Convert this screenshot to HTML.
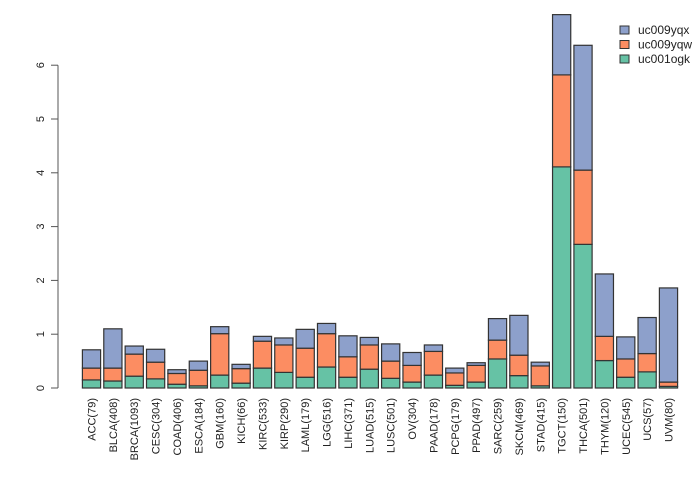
<!DOCTYPE html>
<html><head><meta charset="utf-8">
<style>
html,body{margin:0;padding:0;background:#fff;}
svg{display:block;font-family:"Liberation Sans",sans-serif;}
</style></head>
<body>
<svg id="chart" width="700" height="480"></svg>
<script>
const categories = ["ACC(79)","BLCA(408)","BRCA(1093)","CESC(304)","COAD(406)","ESCA(184)","GBM(160)","KICH(66)","KIRC(533)","KIRP(290)","LAML(179)","LGG(516)","LIHC(371)","LUAD(515)","LUSC(501)","OV(304)","PAAD(178)","PCPG(179)","PPAD(497)","SARC(259)","SKCM(469)","STAD(415)","TGCT(150)","THCA(501)","THYM(120)","UCEC(545)","UCS(57)","UVM(80)"];
const uc001ogk = [0.15,0.13,0.22,0.17,0.07,0.04,0.24,0.09,0.37,0.29,0.20,0.39,0.20,0.35,0.18,0.11,0.24,0.05,0.11,0.54,0.23,0.04,4.11,2.67,0.51,0.20,0.30,0.03];
const uc009yqw = [0.22,0.24,0.41,0.31,0.20,0.29,0.77,0.27,0.50,0.51,0.54,0.62,0.38,0.45,0.32,0.31,0.44,0.23,0.31,0.35,0.38,0.37,1.71,1.38,0.45,0.34,0.34,0.08];
const uc009yqx = [0.34,0.73,0.15,0.24,0.07,0.17,0.13,0.08,0.09,0.13,0.35,0.19,0.39,0.14,0.32,0.24,0.12,0.09,0.05,0.40,0.74,0.07,1.12,2.32,1.16,0.41,0.67,1.75];
const yTicks = [0,1,2,3,4,5,6];
const seriesNames = ["uc001ogk","uc009yqw","uc009yqx"];
const seriesColors = ["#66c2a5","#fc8d62","#8da0cb"];

const NS="http://www.w3.org/2000/svg";
const svg=document.getElementById('chart');
const y0=388, pxPerUnit=53.8;
const yScale=v=>y0-v*pxPerUnit;
const xLeft=i=>82.4+i*21.37;
const barW=18.2;
function mk(tag,attrs,parent){const e=document.createElementNS(NS,tag);for(const k in attrs)e.setAttribute(k,attrs[k]);(parent||svg).appendChild(e);return e;}

// y axis
const axis=mk('g',{});


mk('line',{x1:58,x2:58,y1:yScale(0),y2:yScale(6),stroke:'#555','stroke-width':1},axis);
yTicks.forEach(t=>{
  const y=yScale(t);
  mk('line',{x1:51,x2:58,y1:y,y2:y,stroke:'#555','stroke-width':1},axis);
  const tx=mk('text',{x:0,y:0,transform:`translate(44,${y}) rotate(-90)`,'text-anchor':'middle','font-size':11,fill:'#222'},axis);
  tx.textContent=t;
  
  
});

const series=[uc001ogk,uc009yqw,uc009yqx];
categories.forEach((c,i)=>{
  const g=mk('g',{});
  
  
  let cum=0;
  series.forEach((s,k)=>{
    const y1=yScale(cum), y2=yScale(cum+s[i]);
    const r=mk('rect',{x:xLeft(i),y:y2,width:barW,height:Math.max(0,y1-y2),fill:seriesColors[k],stroke:'#333','stroke-width':1.2},g);
    
    
    cum+=s[i];
  });
  const cx=xLeft(i)+barW/2+4;
  const t=mk('text',{x:0,y:0,transform:`translate(${cx},398) rotate(-90)`,'text-anchor':'end','font-size':11,fill:'#222'},g);
  t.textContent=c;
  
  
});

// legend
const lg=mk('g',{});


const legendOrder=[2,1,0];
legendOrder.forEach((k,j)=>{
  const y=26+j*14.5;
  const r=mk('rect',{x:620,y:y,width:9,height:8,fill:seriesColors[k],stroke:'#333','stroke-width':1},lg);
  
  
  const t=mk('text',{x:638,y:y+8,'font-size':12,fill:'#222'},lg);
  t.textContent=seriesNames[k];
  
  
});
</script>
</body></html>
